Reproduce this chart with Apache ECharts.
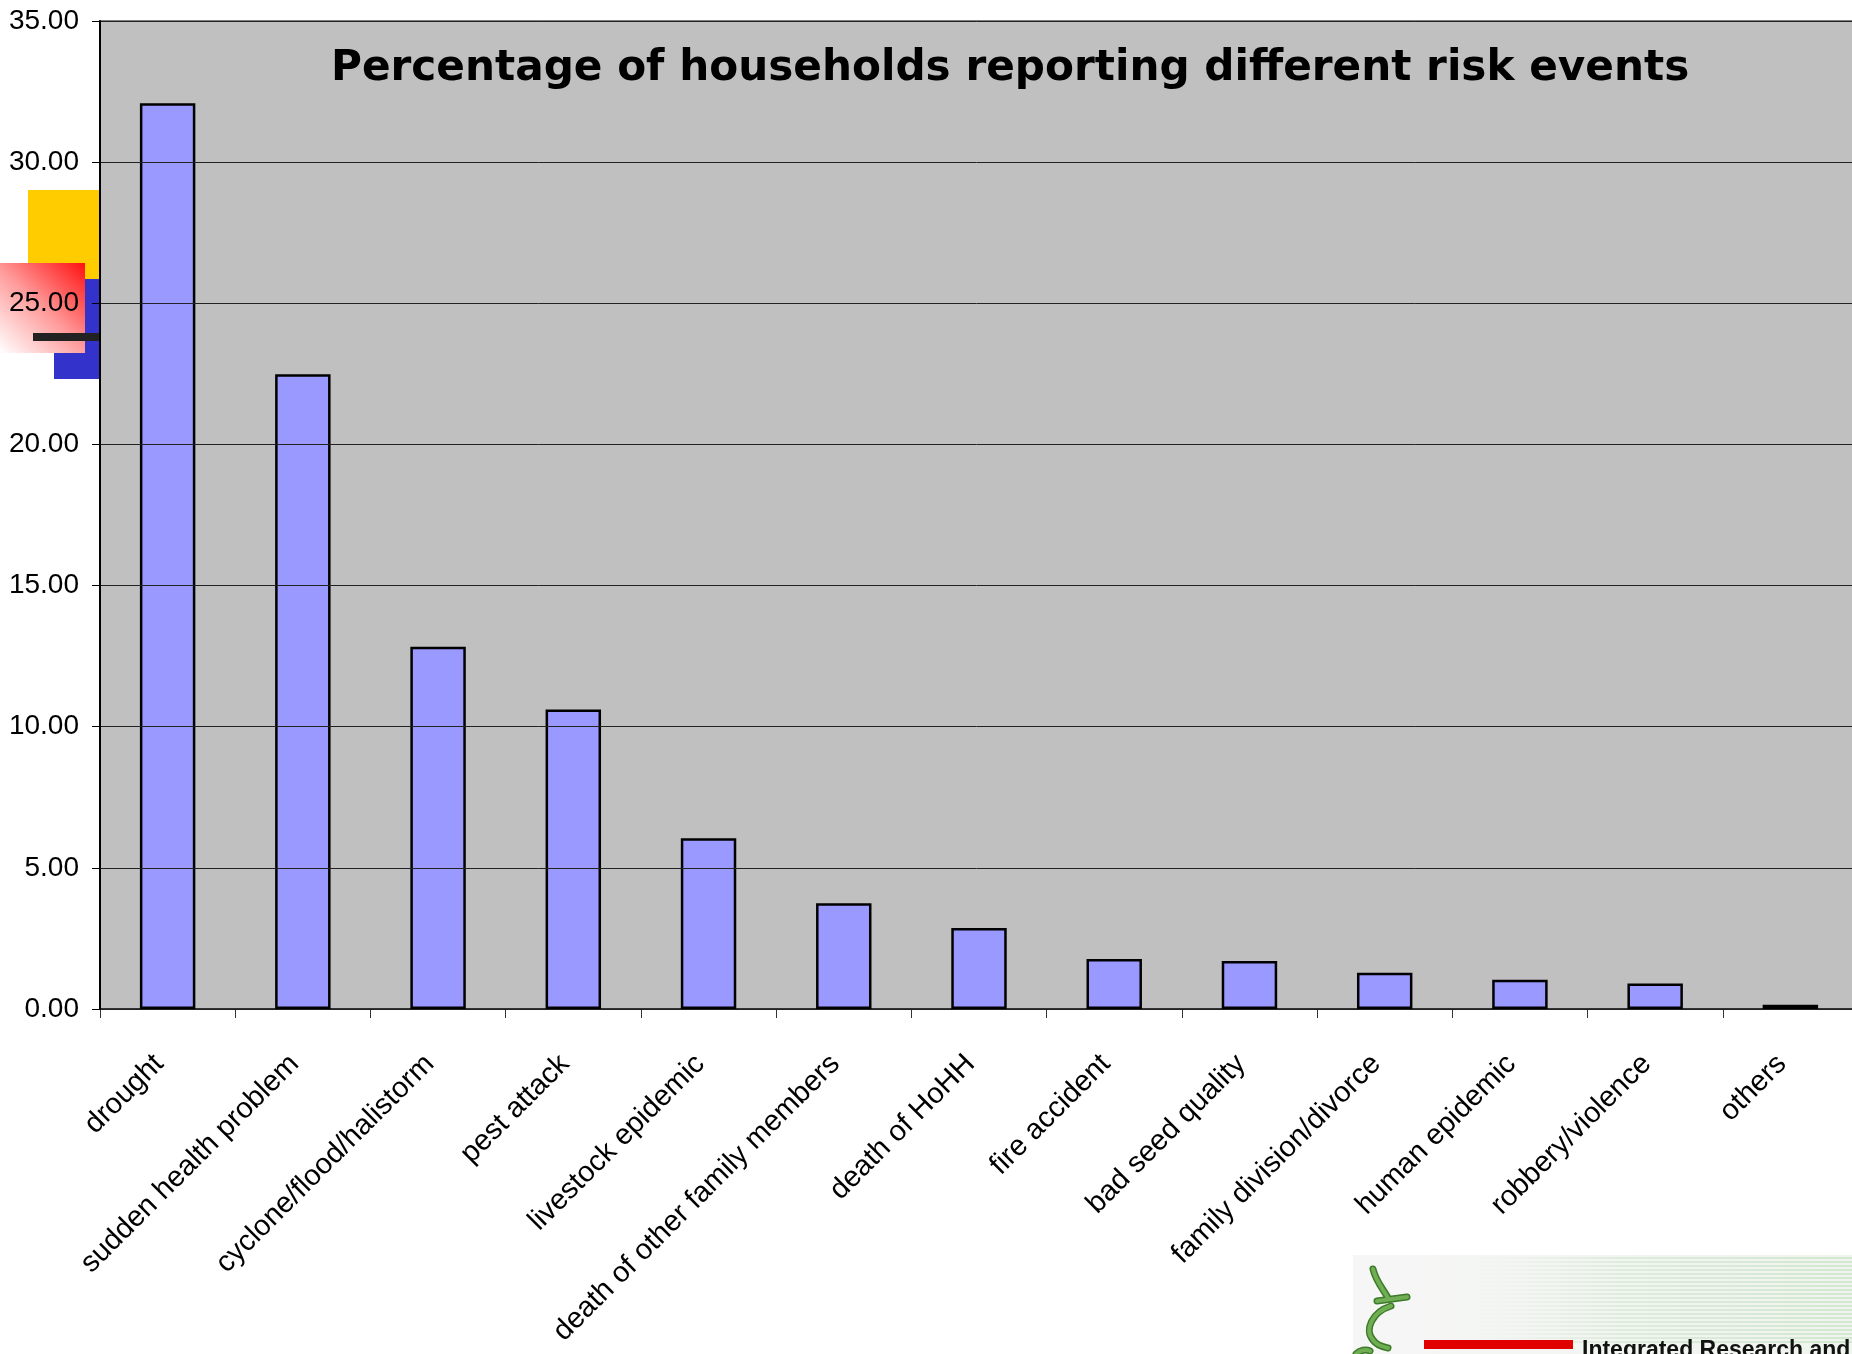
<!DOCTYPE html>
<html>
<head>
<meta charset="utf-8">
<title>risk events</title>
<script src="https://cdn.jsdelivr.net/npm/echarts@6/dist/echarts.min.js"></script>
<style>
html,body{margin:0;padding:0;background:#fff;}
#containerRisk{width:1852px;height:1354px;}
</style>
</head>
<body>
<div id="containerRisk"></div>
<script>
// household risk events, percentages
var categories = ['drought', 'sudden health problem', 'cyclone/flood/halistorm', 'pest attack',
    'livestock epidemic', 'death of other family members', 'death of HoHH', 'fire accident',
    'bad seed quality', 'family division/divorce', 'human epidemic', 'robbery/violence', 'others'];
var values = [32.09, 22.49, 12.83, 10.61, 6.05, 3.75, 2.87, 1.77, 1.70, 1.28, 1.04, 0.90, 0.15];
var yTicks = [0, 5, 10, 15, 20, 25, 30, 35];

var dom = document.getElementById("containerRisk");
var myChart = echarts.init(dom);
var option = null;

// faint stripes of the logo banner
var stripes = [];
for (var i = 0; i < 22; i++) {
    stripes.push({
        type: 'line', z: 0, silent: true,
        shape: {x1: 1470, y1: 1258 + i * 4, x2: 1852, y2: 1258 + i * 4},
        style: {
            lineWidth: 1,
            stroke: new echarts.graphic.LinearGradient(0, 0, 1, 0, [
                {offset: 0, color: 'rgba(190,220,185,0)'},
                {offset: 0.4, color: 'rgba(170,210,165,0.55)'},
                {offset: 1, color: 'rgba(160,205,155,0.7)'}
            ])
        }
    });
}

// green curl of the logo, drawn twice (dark outline, light fill)
var curl = [];
var curlParts = [
    {type: 'bezierCurve', shape: {x1: 1373, y1: 1269, cpx1: 1376, cpy1: 1282, cpx2: 1384, cpy2: 1290, x2: 1388, y2: 1298}},
    {type: 'line', shape: {x1: 1377, y1: 1301, x2: 1407, y2: 1297}},
    {type: 'bezierCurve', shape: {x1: 1391, y1: 1306, cpx1: 1372, cpy1: 1312, cpx2: 1364, cpy2: 1330, x2: 1373, y2: 1340}},
    {type: 'bezierCurve', shape: {x1: 1373, y1: 1340, cpx1: 1377, cpy1: 1346, cpx2: 1384, cpy2: 1347, x2: 1388, y2: 1348}},
    {type: 'bezierCurve', shape: {x1: 1356, y1: 1354, cpx1: 1360, cpy1: 1350, cpx2: 1366, cpy2: 1349, x2: 1370, y2: 1351}}
];
[['#3d7a2a', 7, 1], ['#6fae52', 4, 2]].forEach(function (s) {
    curlParts.forEach(function (p) {
        curl.push({type: p.type, z: s[2], silent: true, shape: p.shape,
            style: {fill: null, stroke: s[0], lineWidth: s[1], lineCap: 'round'}});
    });
});

option = {
    animation: false,
    backgroundColor: '#ffffff',
    title: {
        text: 'Percentage of households reporting different risk events',
        left: 326,
        top: 43,
        textStyle: {
            fontFamily: 'DejaVu Sans',
            fontWeight: 'bold',
            fontSize: 42.2,
            color: '#000'
        }
    },
    grid: {
        left: 100,
        width: 1758,
        top: 21,
        bottom: 345,
        outerBoundsMode: 'none',
        show: true,
        backgroundColor: '#c0c0c0',
        borderColor: '#808080',
        borderWidth: 2
    },
    xAxis: {
        type: 'category',
        data: categories,
        axisLine: {lineStyle: {color: '#333', width: 2}},
        axisTick: {show: true, length: 9, lineStyle: {color: '#333', width: 1}},
        axisLabel: {
            rotate: 45,
            interval: 0,
            margin: 42,
            padding: [0, 12, 0, 0],
            fontFamily: 'Liberation Sans',
            fontSize: 29,
            color: '#000'
        }
    },
    yAxis: {
        type: 'value',
        min: yTicks[0],
        max: yTicks[yTicks.length - 1],
        interval: 5,
        z: 10,
        axisLine: {show: true, lineStyle: {color: '#000', width: 2}},
        axisTick: {show: true, length: 8, lineStyle: {color: '#000'}},
        splitLine: {lineStyle: {color: '#222', width: 1}},
        axisLabel: {
            margin: 21,
            fontFamily: 'Liberation Sans',
            fontSize: 28,
            color: '#000',
            formatter: function (v) { return v.toFixed(2); }
        }
    },
    series: [{
        type: 'bar',
        data: values,
        barWidth: '41%',
        itemStyle: {color: '#9999ff', borderColor: '#000', borderWidth: 2.5}
    }],
    graphic: [
        // slide decoration left of the axis
        {type: 'rect', z: 0, silent: true, shape: {x: 28, y: 190, width: 72, height: 89}, style: {fill: '#ffcc00'}},
        {type: 'rect', z: 0, silent: true, shape: {x: 54, y: 279, width: 46, height: 100}, style: {fill: '#3333cc'}},
        {type: 'rect', z: 1, silent: true, shape: {x: 0, y: 263, width: 85, height: 90},
            style: {fill: new echarts.graphic.LinearGradient(1, 0, 0, 1, [
                {offset: 0, color: '#ff1010'},
                {offset: 0.5, color: '#ff9a9a'},
                {offset: 1, color: '#ffffff'}
            ])}},
        {type: 'rect', z: 2, silent: true, shape: {x: 33, y: 333, width: 67, height: 8}, style: {fill: '#222'}},
        // logo banner bottom right
        {type: 'rect', z: 0, silent: true, shape: {x: 1353, y: 1255, width: 499, height: 99},
            style: {fill: new echarts.graphic.LinearGradient(0, 0, 1, 0, [
                {offset: 0, color: '#f6f6f6'},
                {offset: 1, color: '#eef5ec'}
            ])}}
    ].concat(stripes).concat(curl).concat([
        {type: 'rect', z: 1, silent: true, shape: {x: 1424, y: 1340, width: 149, height: 9}, style: {fill: '#e00000'}},
        {type: 'text', z: 1, silent: true, x: 1582, y: 1339,
            style: {text: 'Integrated Research and', fill: '#111', font: 'bold 23px "Liberation Sans"', verticalAlign: 'top'}}
    ])
};

if (option && typeof option === "object") {
    myChart.setOption(option);
}
</script>
</body>
</html>
